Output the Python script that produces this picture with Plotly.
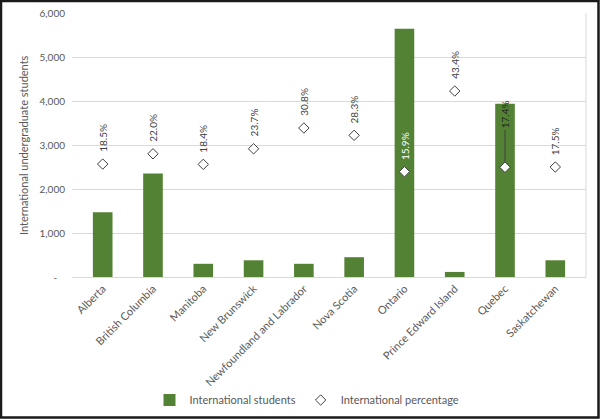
import plotly.graph_objects as go

provinces = ["Alberta", "British Columbia", "Manitoba", "New Brunswick",
             "Newfoundland and Labrador", "Nova Scotia", "Ontario",
             "Prince Edward Island", "Quebec", "Saskatchewan"]
intl_students = [1470, 2350, 300, 380, 300, 450, 5640, 115, 3940, 380]
intl_pct = [0.185, 0.220, 0.184, 0.237, 0.308, 0.283, 0.159, 0.434, 0.174, 0.175]

y_tickvals = [0, 1000, 2000, 3000, 4000, 5000, 6000]
y_ticktext = ["-\u00a0\u00a0\u00a0", "1,000", "2,000", "3,000", "4,000", "5,000", "6,000"]

FONT = "Lato, 'Open Sans', sans-serif"
GREEN = "#548235"
TXT = "#595959"
GRID = "#d9d9d9"

L, R, T, B = 72, 14, 13, 142
W, H = 600, 419
PW, PH = W - L - R, H - T - B

fig = go.Figure()
fig.add_trace(go.Bar(
    x=provinces, y=intl_students, name="International students",
    marker=dict(color=GREEN, line=dict(width=0)), width=0.39, yaxis="y"))
fig.add_trace(go.Scatter(
    x=provinces, y=intl_pct, name="International percentage", mode="markers",
    marker=dict(symbol="diamond", size=8, color="white",
                line=dict(color="#404040", width=1)), yaxis="y2"))

annotations = []
for p, v in zip(provinces, intl_pct):
    label = f"{v*100:.1f}%"
    if p == "Quebec":
        annotations.append(dict(
            x=p, y=v, xref="x", yref="y2", text=label, textangle=-90,
            showarrow=True, ax=0, ay=-53, arrowhead=0, arrowwidth=1,
            arrowcolor="#404040", standoff=5,
            font=dict(family=FONT, size=10, color="#262626")))
    else:
        annotations.append(dict(
            x=p, y=v, xref="x", yref="y2", text=label, textangle=-90,
            showarrow=False, yanchor="bottom", yshift=10,
            font=dict(family=FONT, size=10,
                      color="white" if p == "Ontario" else "#404040")))

annotations.append(dict(
    x=-(L - 23) / PW, y=0.5, xref="paper", yref="paper",
    text="International undergraduate students", textangle=-90,
    showarrow=False, xanchor="center", yanchor="middle",
    font=dict(family=FONT, size=11, color=TXT)))

shapes = [
    dict(type="line", xref="paper", yref="paper", x0=1, x1=1, y0=0, y1=1,
         line=dict(color=GRID, width=1)),
    dict(type="rect", xref="paper", yref="paper",
         x0=(1 - L) / PW, x1=(W - 1.5 - L) / PW,
         y0=-(H - 1.5 - PH - T) / PH, y1=(PH + T - 1) / PH,
         line=dict(color="#1a1a1a", width=2.5)),
]

fig.update_layout(
    width=W, height=H,
    margin=dict(l=L, r=R, t=T, b=B, autoexpand=False),
    paper_bgcolor="white", plot_bgcolor="white",
    font=dict(family=FONT, size=10, color=TXT),
    showlegend=True,
    legend=dict(orientation="h", x=(307 - L) / PW, xanchor="center",
                y=-(400 - T - PH) / PH, yanchor="middle",
                font=dict(family=FONT, size=11, color=TXT),
                itemwidth=30, traceorder="normal"),
    xaxis=dict(type="category", tickangle=-45, showgrid=False,
               showline=True, linecolor=GRID, linewidth=1, ticks="",
               tickfont=dict(family=FONT, size=11, color=TXT),
               automargin=False),
    yaxis=dict(range=[0, 6000], tickvals=y_tickvals, ticktext=y_ticktext,
               showgrid=True, gridcolor=GRID, gridwidth=1, zeroline=False,
               showline=False, ticks="", ticklabelstandoff=6,
               tickfont=dict(family=FONT, size=10, color=TXT),
               automargin=False),
    yaxis2=dict(range=[-0.2, 0.7], overlaying="y", side="right",
                visible=False, showgrid=False),
    annotations=annotations,
    shapes=shapes,
)

fig.write_html("out.html")
